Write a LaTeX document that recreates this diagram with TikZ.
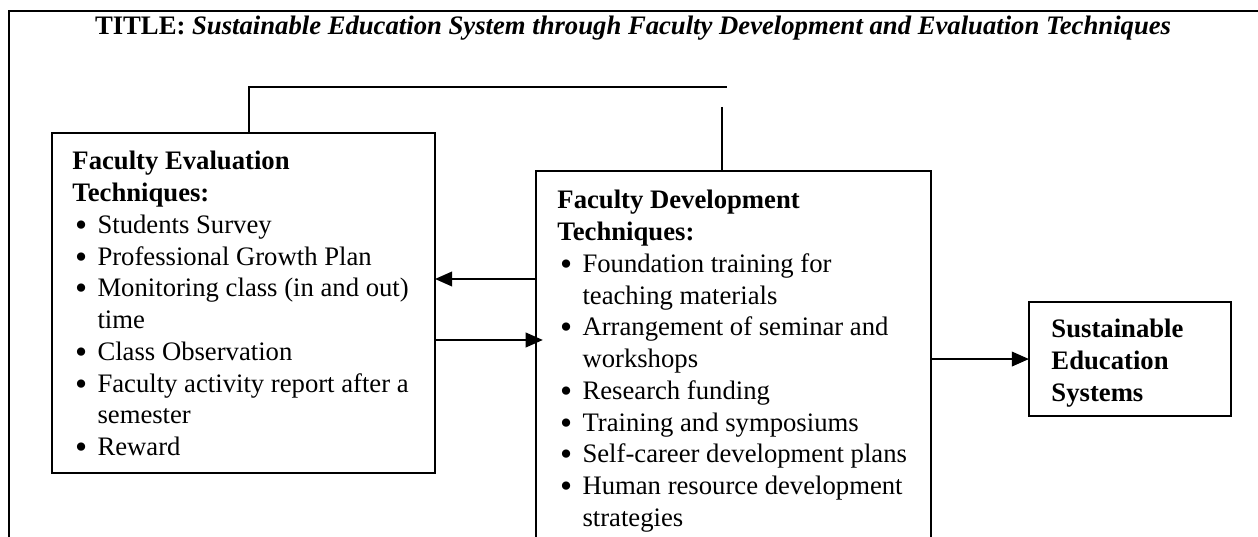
\documentclass[tikz,border=0pt]{standalone}
\usepackage{fontspec}
\setmainfont{Liberation Serif}
\usetikzlibrary{arrows.meta,positioning}

\newcommand{\bul}{\makebox[10.9pt][l]{\hspace{1.2pt}\raisebox{-1.3pt}{\fontsize{15}{15}\selectfont\textbullet}}}
\newcommand{\cnt}{\hspace*{10.9pt}}

\begin{document}
\begin{tikzpicture}[x=0.4348pt, y=-0.4348pt,
	every node/.style={font=\fontsize{11.6}{13.8}\selectfont},
	box/.style={draw, line width=1pt, inner sep=0pt, outer sep=0pt, anchor=north west},
	txt/.style={inner sep=0pt, anchor=north west, align=left},
	arr/.style={line width=1.1pt, -{Triangle[length=7.5pt,width=6.3pt]}},
	link/.style={line width=1pt}]

\useasboundingbox (0,0) rectangle (1258,537);
\clip (0,0) rectangle (1258,537);

% Frame
\draw[line width=1.2pt] (9,560) -- (9,11) -- (1270,11);

% Title
\node[anchor=base] (title) at (633,35) {\textbf{TITLE:} \textbf{\textit{Sustainable Education System through Faculty Development and Evaluation Techniques}}};

% Boxes
\node[box, minimum width=166.5pt, minimum height=147.8pt] (eval) at (52,133) {};
\node[box, minimum width=171.7pt, minimum height=174pt] (dev) at (536,171) {};
\node[box, minimum width=87.8pt, minimum height=49.6pt] (sust) at (1029,302) {};

% Box texts
\node[txt] (evaltxt) at (72,151) {\textbf{Faculty Evaluation}\\
	\textbf{Techniques:}\\
	\bul Students Survey\\
	\bul Professional Growth Plan\\
	\bul Monitoring class (in and out)\\
	\cnt time\\
	\bul Class Observation\\
	\bul Faculty activity report after a\\
	\cnt semester\\
	\bul Reward};
\node[txt] (devtxt) at (557,190) {\textbf{Faculty Development}\\
	\textbf{Techniques:}\\
	\bul Foundation training for\\
	\cnt teaching materials\\
	\bul Arrangement of seminar and\\
	\cnt workshops\\
	\bul Research funding\\
	\bul Training and symposiums\\
	\bul Self-career development plans\\
	\bul Human resource development\\
	\cnt strategies};
\node[txt] (susttxt) at (1051,319) {\textbf{Sustainable}\\ \textbf{Education}\\ \textbf{Systems}};

% Feedback line
\coordinate (fbE) at (249,87);
\coordinate (fbL) at (727,87);
\coordinate (fbR) at (722,107);
\draw[link] (eval.north -| fbE) -- (fbE) -- (fbL);
\draw[link] (fbR) -- (fbR |- dev.north);

% Arrows
\coordinate (a1) at (0,279);
\coordinate (a2) at (0,340);
\draw[arr] (dev.west |- a1) -- (eval.east |- a1);
\draw[arr, shorten >=-3pt] (eval.east |- a2) -- (dev.west |- a2);
\draw[arr] (dev.east |- sust.west) -- (sust.west);
\end{tikzpicture}
\end{document}
